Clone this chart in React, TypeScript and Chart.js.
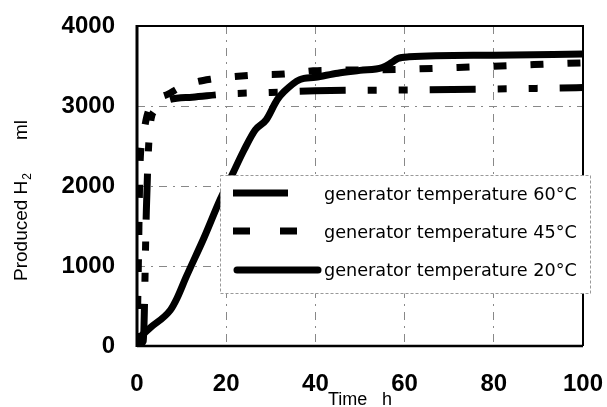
import { useEffect, useRef } from 'react';
import { Chart, registerables } from 'chart.js';

Chart.register(...registerables);

const xTicks = [0, 20, 40, 60, 80, 100];
const yTicks = [0, 1000, 2000, 3000, 4000];

const seriesLabels = [
  'generator temperature 60°C',
  'generator temperature 45°C',
  'generator temperature 20°C',
];

const time60 = [0, 1.4, 2.1, 2.6, 3.0, 4, 7, 12.4, 20, 30, 40, 60, 76, 95, 100];
const h2_60 = [0, 60, 1700, 2490, 2780, 2950, 3075, 3110, 3150, 3170, 3190, 3200, 3210, 3225, 3230];

const time45 = [0, 0.3, 0.7, 1.3, 2, 3, 4.4, 7, 9.4, 12.4, 17, 20, 27, 33, 39.5, 50, 60.5, 76, 92.6, 100];
const h2_45 = [0, 1000, 2300, 2580, 2820, 3000, 3085, 3150, 3225, 3290, 3340, 3360, 3390, 3400, 3440, 3450, 3460, 3490, 3525, 3540];

const time20 = [0, 3, 7.5, 9, 11, 15, 18.6, 21.5, 24, 26.5, 29, 31.4, 33, 36.5, 40, 45, 50, 55, 57, 58.5, 61, 80, 100];
const h2_20 = [80, 230, 450, 600, 860, 1350, 1825, 2160, 2450, 2700, 2830, 3075, 3180, 3330, 3360, 3410, 3445, 3480, 3540, 3595, 3615, 3635, 3650];

const toPoints = (xs: number[], ys: number[]) => xs.map((x, i) => ({ x, y: ys[i] }));

const frameAndLegend = {
  id: 'frameAndLegend',
  afterDatasetsDraw(chart: any) {
    const { ctx, chartArea: a } = chart;
    ctx.save();
    ctx.strokeStyle = '#000';
    ctx.lineWidth = 2;
    ctx.beginPath();
    ctx.moveTo(a.left, a.top);
    ctx.lineTo(a.right, a.top);
    ctx.lineTo(a.right, a.bottom);
    ctx.stroke();
    ctx.lineWidth = 2.5;
    ctx.beginPath();
    ctx.moveTo(a.right, a.bottom);
    ctx.lineTo(a.left, a.bottom);
    ctx.stroke();
    ctx.lineWidth = 3;
    ctx.beginPath();
    ctx.moveTo(a.left, a.bottom + 1);
    ctx.lineTo(a.left, a.top - 1);
    ctx.stroke();
    ctx.restore();
  },
  afterDraw(chart: any) {
    const { ctx } = chart;
    ctx.save();
    const bx = 220.5, by = 175.5, bw = 370, bh = 118;
    ctx.fillStyle = '#fff';
    ctx.fillRect(bx, by, bw, bh);
    ctx.strokeStyle = '#999';
    ctx.lineWidth = 1;
    ctx.setLineDash([3, 2]);
    ctx.strokeRect(bx, by, bw, bh);
    ctx.setLineDash([]);

    const rows = [194, 232, 270];
    ctx.strokeStyle = '#000';
    ctx.lineWidth = 7;
    ctx.lineCap = 'butt';
    ctx.beginPath();
    ctx.moveTo(233, rows[0] - 1);
    ctx.lineTo(288, rows[0] - 1);
    ctx.stroke();
    ctx.setLineDash([17, 30]);
    ctx.beginPath();
    ctx.moveTo(233, rows[1] - 1);
    ctx.lineTo(297, rows[1] - 1);
    ctx.stroke();
    ctx.setLineDash([]);
    ctx.lineCap = 'round';
    ctx.beginPath();
    ctx.moveTo(237, rows[2]);
    ctx.lineTo(318, rows[2]);
    ctx.stroke();

    ctx.fillStyle = '#000';
    ctx.textAlign = 'left';
    ctx.textBaseline = 'middle';
    let fs = 18;
    ctx.font = `${fs}px "DejaVu Sans"`;
    const w = ctx.measureText(seriesLabels[1]).width;
    fs = fs * 253 / w;
    ctx.font = `${fs}px "DejaVu Sans"`;
    seriesLabels.forEach((lab, i) => {
      ctx.fillText(lab, 324, rows[i] + 1);
    });

    ctx.textBaseline = 'alphabetic';
    ctx.font = '18px "Liberation Sans"';
    ctx.fillText('Time', 328, 405);
    ctx.fillText('h', 382, 405);

    ctx.translate(27, 0);
    ctx.rotate(-Math.PI / 2);
    ctx.font = '19px "Liberation Sans"';
    ctx.textAlign = 'left';
    const startX = -281;
    const t1 = 'Produced H';
    ctx.fillText(t1, startX, 0);
    const w1 = ctx.measureText(t1).width;
    ctx.font = '12px "Liberation Sans"';
    ctx.fillText('2', startX + w1 + 1, 4);
    ctx.font = '19px "Liberation Sans"';
    ctx.fillText('ml', -140, 0);
    ctx.restore();
  },
};

export default function App() {
  const ref = useRef<HTMLCanvasElement>(null);
  useEffect(() => {
    document.body.style.margin = '0';
    const common = { pointRadius: 0, borderColor: '#000', borderWidth: 7, fill: false, clip: 0, cubicInterpolationMode: 'monotone' as const };
    const tickFont = { family: 'Liberation Sans', size: 24, weight: 'bold' as const };
    const chart = new Chart(ref.current!, {
      type: 'line',
      data: {
        datasets: [
          { ...common, label: seriesLabels[0], data: toPoints(time60, h2_60), borderDash: [46, 22, 9, 22, 9, 22], borderCapStyle: 'butt' },
          { ...common, label: seriesLabels[1], data: toPoints(time45, h2_45), borderDash: [13, 24], borderCapStyle: 'butt' },
          { ...common, label: seriesLabels[2], data: toPoints(time20, h2_20), borderCapStyle: 'round', borderJoinStyle: 'round' },
        ],
      },
      options: {
        responsive: false,
        animation: false,
        layout: { padding: { top: 26, right: 24, left: 0, bottom: 0 } },
        plugins: { legend: { display: false }, tooltip: { enabled: false } },
        scales: {
          x: {
            type: 'linear',
            min: 0,
            max: 100,
            afterBuildTicks: (s: any) => { s.ticks = xTicks.map((v) => ({ value: v })); },
            afterFit: (s: any) => { s.height = 61; s.paddingLeft = 0; s.paddingRight = 0; },
            ticks: { padding: 24, color: '#000', font: tickFont, maxRotation: 0, callback: (v: any) => String(v) },
            grid: { color: '#888', lineWidth: 1, drawTicks: false },
            border: { display: false, dash: [8, 6, 2, 6] },
          },
          y: {
            type: 'linear',
            min: 0,
            max: 4000,
            afterBuildTicks: (s: any) => { s.ticks = yTicks.map((v) => ({ value: v })); },
            afterFit: (s: any) => { s.width = 137; s.paddingTop = 0; s.paddingBottom = 0; },
            ticks: { padding: 22, color: '#000', font: tickFont, callback: (v: any) => String(v) },
            grid: { color: '#888', lineWidth: 1, drawTicks: false },
            border: { display: false, dash: [8, 6, 2, 6] },
          },
        },
      },
      plugins: [frameAndLegend],
    });
    return () => chart.destroy();
  }, []);
  return (
    <div style={{ position: 'fixed', left: 0, top: 0, width: 607, height: 407 }}>
      <canvas ref={ref} width={607} height={407} />
    </div>
  );
}
